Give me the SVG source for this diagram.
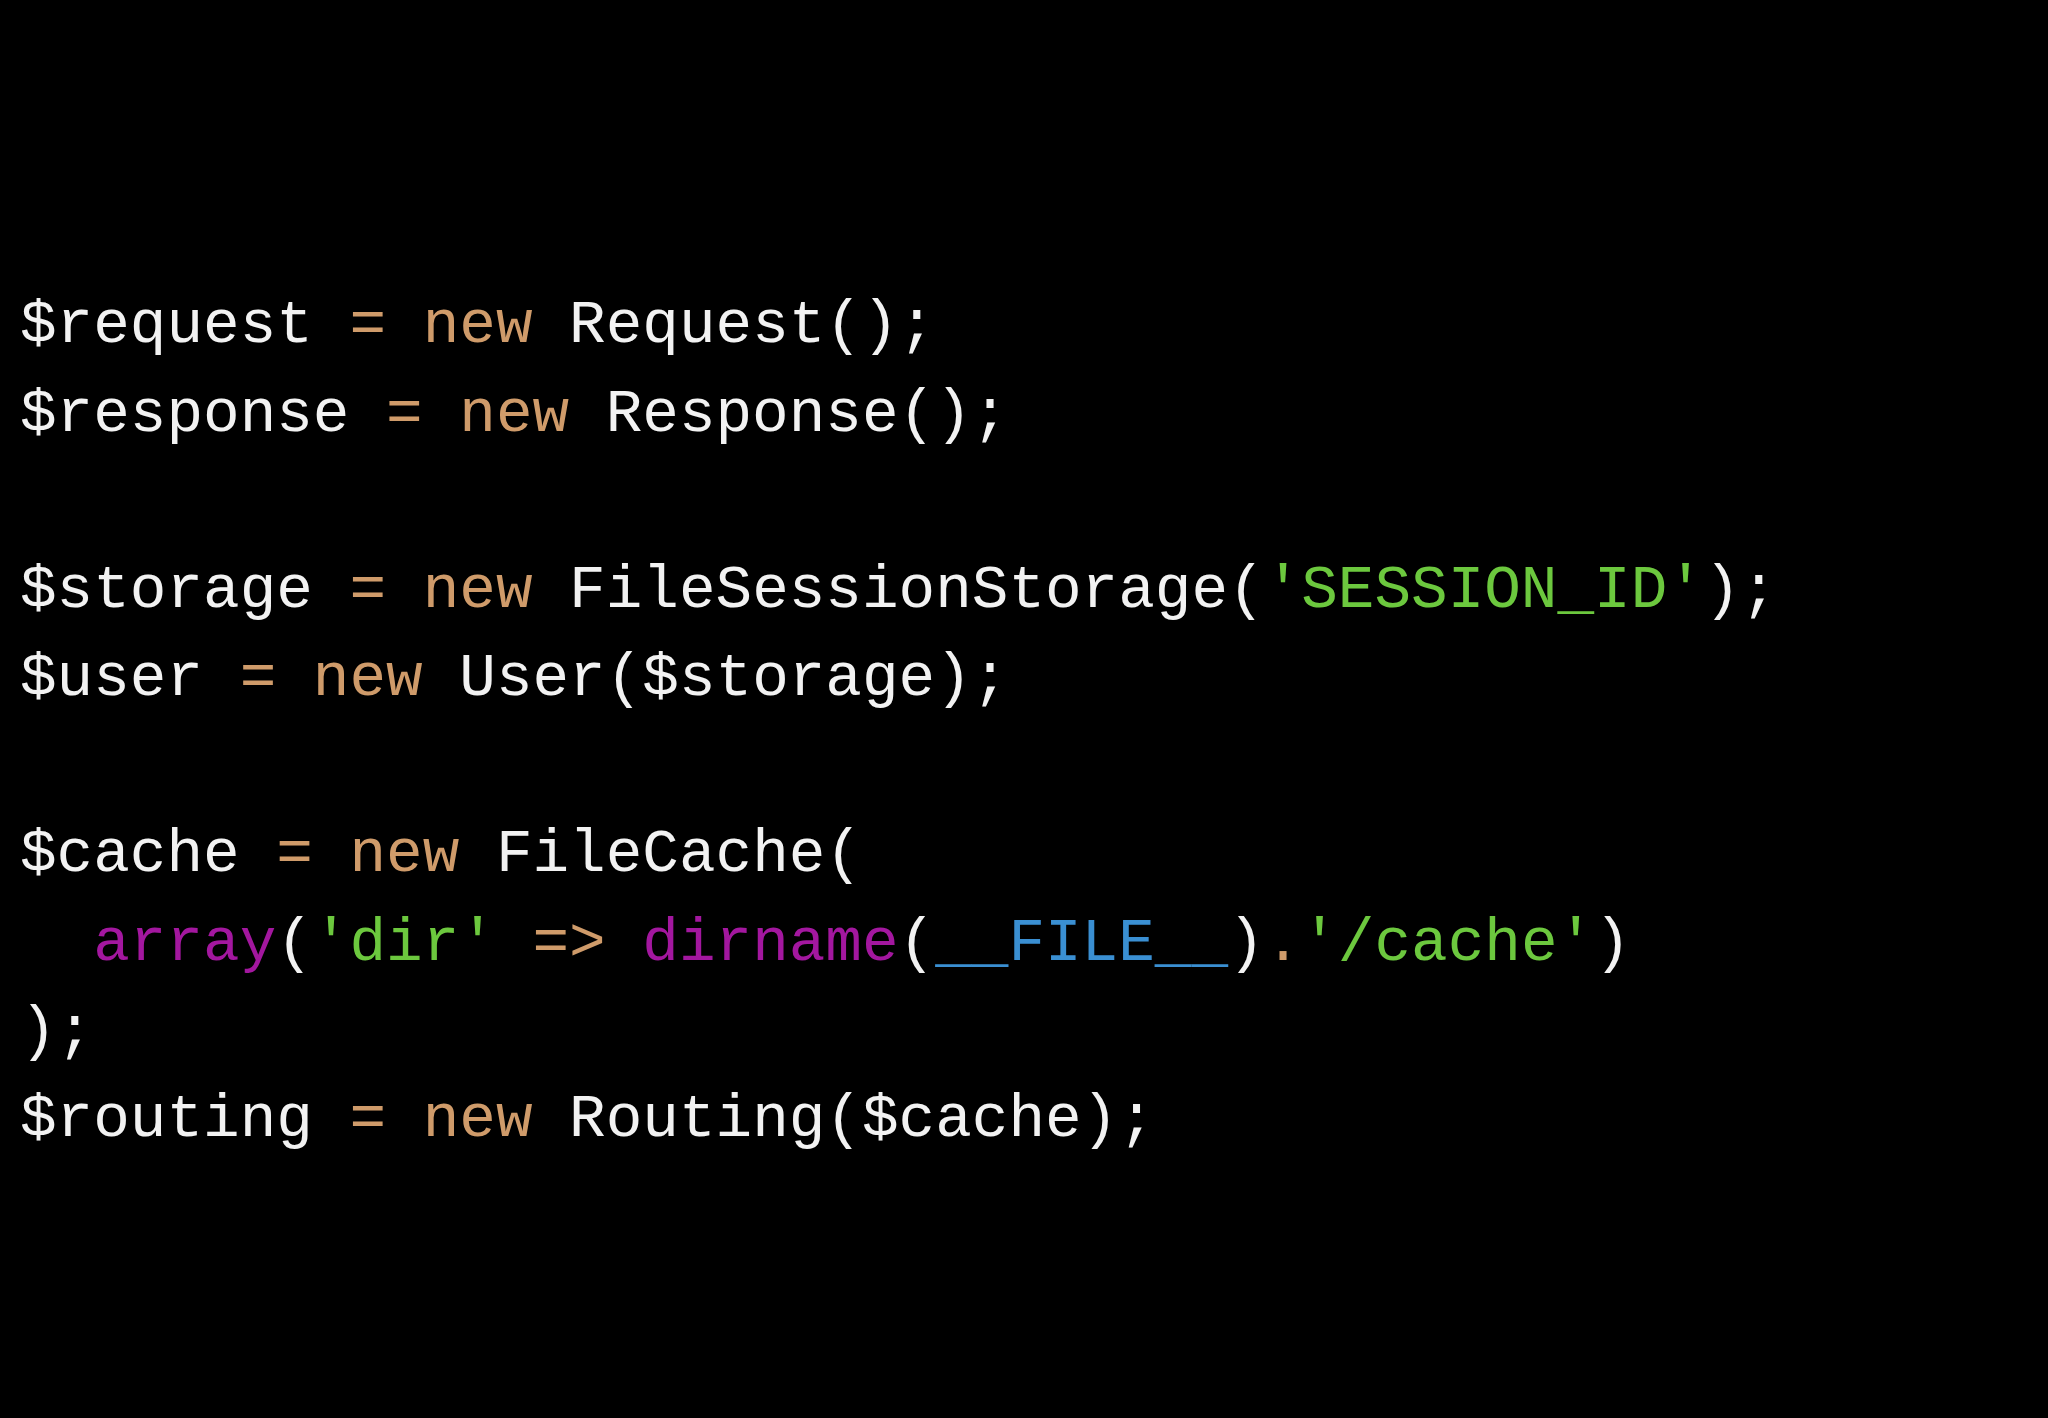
<svg xmlns="http://www.w3.org/2000/svg" width="2048" height="1418" viewBox="0 0 2048 1418">
<style>
text{font-family:"Liberation Mono","DejaVu Sans Mono",monospace;font-size:61px;fill:#f2f2f2;white-space:pre}
.k{fill:#cf9b6a}.s{fill:#6cc83e}.f{fill:#a3179f}.c{fill:#3a8fd2}
</style>
<rect width="2048" height="1418" fill="#000"/>
<g id="code" xml:space="preserve">
<text x="20" y="342">$request <tspan class="k">= new</tspan> Request();</text>
<text x="20" y="431">$response <tspan class="k">= new</tspan> Response();</text>
<text x="20" y="607">$storage <tspan class="k">= new</tspan> FileSessionStorage(<tspan class="s">'SESSION_ID'</tspan>);</text>
<text x="20" y="695">$user <tspan class="k">= new</tspan> User($storage);</text>
<text x="20" y="871">$cache <tspan class="k">= new</tspan> FileCache(</text>
<text x="20" y="960">  <tspan class="f">array</tspan>(<tspan class="s">'dir'</tspan> <tspan class="k">=&gt;</tspan> <tspan class="f">dirname</tspan>(<tspan class="c">__FILE__</tspan>)<tspan class="k">.</tspan><tspan class="s">'/cache'</tspan>)</text>
<text x="20" y="1048">);</text>
<text x="20" y="1136">$routing <tspan class="k">= new</tspan> Routing($cache);</text>
</g>
</svg>
